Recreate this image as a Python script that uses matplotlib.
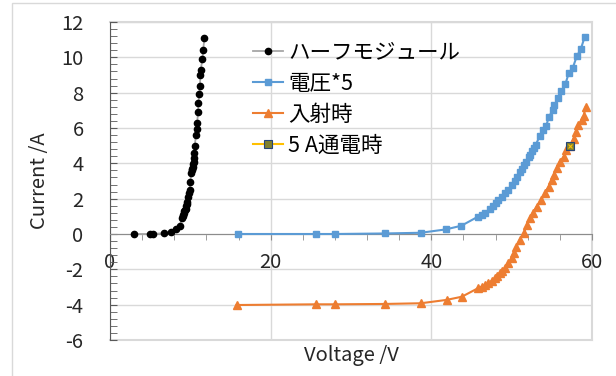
import numpy as np
import matplotlib.pyplot as plt
from matplotlib.patches import Rectangle
from matplotlib.ticker import MultipleLocator

plt.rcParams['font.family'] = ['Noto Sans CJK JP', 'DejaVu Sans']
plt.rcParams['axes.unicode_minus'] = False

# ハーフモジュール
half_v = [3.0, 5.0, 5.4, 6.7, 7.6, 8.25, 8.67, 8.96, 9.05, 9.12, 9.17, 9.25, 9.3, 9.4,
          9.47, 9.53, 9.6, 9.7, 9.8, 9.9, 10.0, 10.1, 10.17, 10.22, 10.3, 10.35, 10.4,
          10.45, 10.5, 10.55, 10.7, 10.8, 10.85, 10.96, 11.0, 11.1, 11.2, 11.25, 11.3,
          11.5, 11.6, 11.75]
half_i = [0.0, 0.0, 0.0, 0.05, 0.1, 0.28, 0.47, 0.89, 1.0, 1.1, 1.17, 1.3, 1.37, 1.44,
          1.6, 1.7, 1.83, 2.1, 2.3, 2.5, 2.96, 3.43, 3.6, 3.7, 3.8, 3.95, 4.1,
          4.3, 4.6, 5.0, 5.6, 5.96, 6.3, 6.9, 7.4, 7.9, 8.4, 9.0, 9.3,
          9.9, 10.4, 11.1]

# 電圧*5
volt_v = [15.9, 25.6, 28.0, 34.2, 38.7, 41.8, 43.75, 45.8, 46.25, 46.7, 47.3, 47.7, 48.0,
          48.3, 48.75, 49.2, 49.6, 50.0, 50.4, 50.7, 51.0, 51.3, 51.5, 51.75, 52.1, 52.3,
          52.5, 52.8, 53.0, 53.5, 53.96, 54.3, 54.6, 55.1, 55.3, 55.8, 56.2, 56.7, 57.1,
          57.6, 58.1, 58.6, 59.1]
volt_i = [0.0, 0.0, 0.0, 0.03, 0.07, 0.26, 0.47, 0.98, 1.06, 1.2, 1.4, 1.6, 1.75,
          1.9, 2.1, 2.3, 2.5, 2.8, 3.0, 3.25, 3.5, 3.7, 3.9, 4.1, 4.35, 4.5,
          4.67, 4.86, 5.05, 5.55, 5.9, 6.1, 6.6, 7.0, 7.3, 7.7, 8.1, 8.5, 9.1,
          9.4, 10.05, 10.46, 11.17]

# 入射時
inc_v = [15.75, 25.6, 28.0, 34.2, 38.7, 41.9, 43.8, 45.8, 46.25, 46.7, 47.1, 47.5, 47.9,
         48.2, 48.5, 48.8, 49.2, 49.6, 50.0, 50.3, 50.6, 51.0, 51.5, 51.9, 52.3, 52.6,
         53.1, 53.7, 54.1, 54.6, 55.0, 55.3, 55.6, 56.0, 56.5, 56.8, 57.3, 57.7, 58.0,
         58.3, 58.75, 58.96, 59.2]
inc_i = [-4.02, -3.98, -3.98, -3.96, -3.92, -3.73, -3.55, -3.07, -2.98, -2.9, -2.79, -2.65, -2.5,
         -2.35, -2.2, -2.07, -1.94, -1.66, -1.38, -1.09, -0.72, -0.34, 0.04, 0.5, 0.9, 1.17,
         1.55, 1.92, 2.3, 2.68, 3.06, 3.34, 3.72, 4.1, 4.38, 4.75, 5.0, 5.4, 5.8,
         6.15, 6.45, 6.7, 7.17]

# 5 A通電時
pt_v = [57.3]
pt_i = [5.0]

fig = plt.figure(figsize=(6.16, 3.76), dpi=100)
fig.patches.append(Rectangle((12/616, -0.1), 1.2, 1 - 3/376 + 0.1, transform=fig.transFigure,
                             fill=False, edgecolor='#d9d9d9', linewidth=1))
ax = fig.add_axes([110/616, 36/376, 482/616, 318/376])

ax.plot(half_v, half_i, color='#a6a6a6', linewidth=1.3, marker='o', markersize=4.5,
        markerfacecolor='black', markeredgecolor='black', label='ハーフモジュール', zorder=3)
ax.plot(volt_v, volt_i, color='#5b9bd5', linewidth=1.5, marker='s', markersize=5,
        label='電圧*5', zorder=3)
ax.plot(inc_v, inc_i, color='#ed7d31', linewidth=1.5, marker='^', markersize=5.5,
        label='入射時', zorder=3)
ax.plot(pt_v, pt_i, color='#ffc000', linewidth=1.5, marker='s', markersize=5.5,
        markerfacecolor='#7f8030', markeredgecolor='#264478', markeredgewidth=0.8,
        label='5 A通電時', zorder=4)
ax.plot(pt_v, pt_i, linestyle='none', marker='x', markersize=3.5, color='#ffc000',
        markeredgewidth=0.8, zorder=5)

ax.set_xlim(0, 60)
ax.set_ylim(-6, 12)
ax.xaxis.set_major_locator(MultipleLocator(20))
ax.xaxis.set_minor_locator(MultipleLocator(4))
ax.yaxis.set_major_locator(MultipleLocator(2))
ax.yaxis.set_minor_locator(MultipleLocator(0.4))

ax.spines['bottom'].set_position(('data', 0))
ax.spines['bottom'].set_color('#8c8c8c')
ax.spines['left'].set_color('#595959')
ax.spines['top'].set_visible(False)
ax.spines['right'].set_visible(False)

ax.grid(True, which='major', color='#d9d9d9', linewidth=1, zorder=0)
ax.axhline(-6, color='#d9d9d9', linewidth=1.5, zorder=0, clip_on=False)
ax.axvline(60, color='#d9d9d9', linewidth=1.5, zorder=0, clip_on=False)
ax.axhline(12, color='#d9d9d9', linewidth=1.5, zorder=0, clip_on=False)
ax.set_axisbelow(True)

ax.tick_params(axis='x', which='both', direction='out', length=4, color='#8c8c8c',
               labelsize=14.5, pad=9, labelcolor='#262626')
ax.tick_params(axis='y', which='both', direction='in', length=5, color='#595959',
               labelsize=14.5, pad=19, labelcolor='#262626')

ax.set_xlabel('Voltage /V', fontsize=14.5, color='#262626', labelpad=0)
ax.xaxis.set_label_coords(0.5, -0.015)
ax.set_ylabel('Current /A', fontsize=14.5, color='#262626')
ax.yaxis.set_label_coords(-0.125, 0.5)

ax.legend(loc='upper left', bbox_to_anchor=(0.278, 0.965), frameon=False, fontsize=15.5,
          handlelength=1.4, handletextpad=0.25, labelspacing=0.42, borderaxespad=0)

fig.savefig('out.png', dpi=100)
